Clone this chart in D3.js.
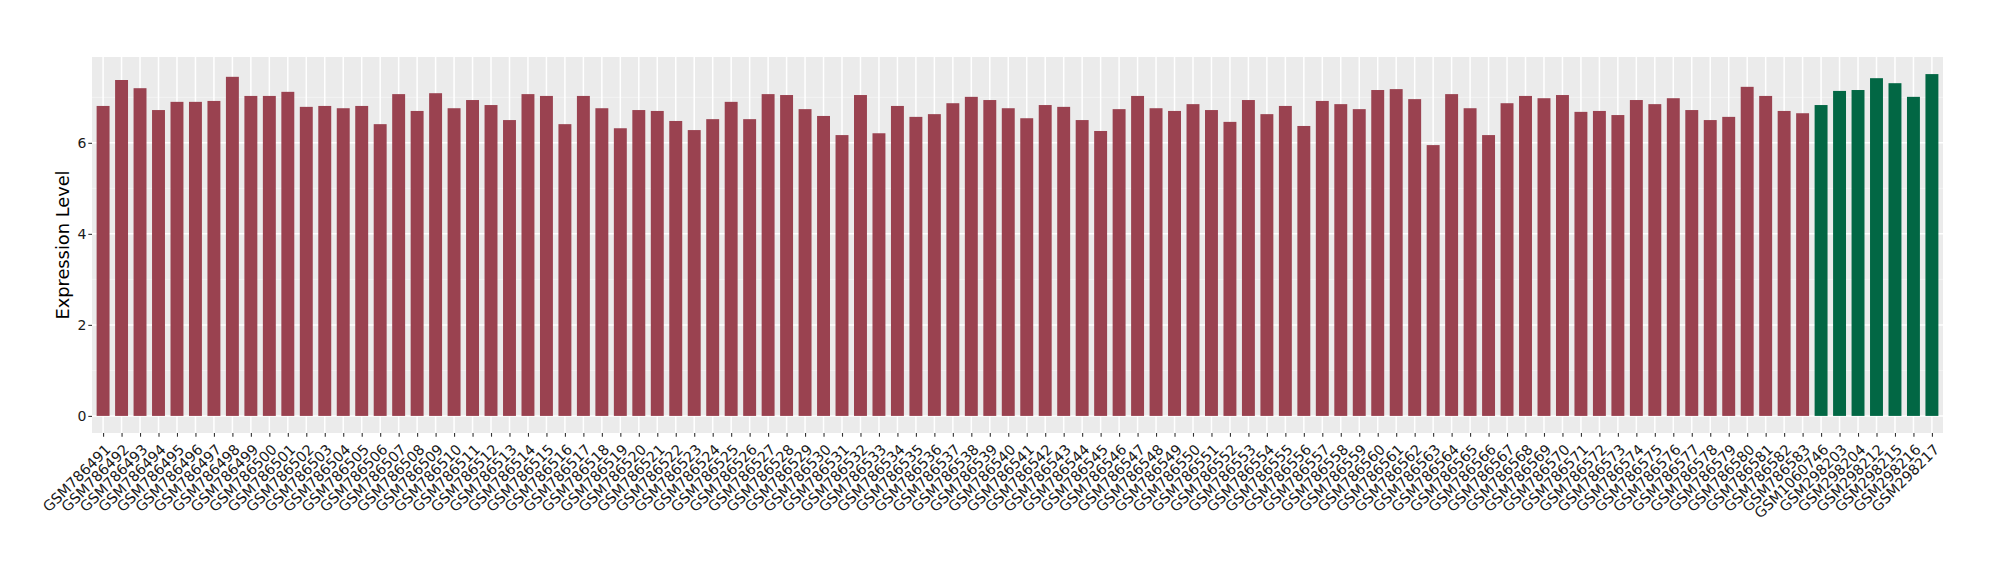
<!DOCTYPE html>
<html>
<head>
<meta charset="utf-8">
<script src="https://cdn.jsdelivr.net/npm/d3@7"></script>
<style>
  body { margin: 0; background: #ffffff; }
  svg text { font-family: "DejaVu Sans", "Liberation Sans", sans-serif; }
</style>
</head>
<body>
<script>
// Sample ids, in plotting order
const sampleIds = [
    "GSM786491", "GSM786492", "GSM786493", "GSM786494", "GSM786495", "GSM786496", "GSM786497", "GSM786498",
    "GSM786499", "GSM786500", "GSM786501", "GSM786502", "GSM786503", "GSM786504", "GSM786505", "GSM786506",
    "GSM786507", "GSM786508", "GSM786509", "GSM786510", "GSM786511", "GSM786512", "GSM786513", "GSM786514",
    "GSM786515", "GSM786516", "GSM786517", "GSM786518", "GSM786519", "GSM786520", "GSM786521", "GSM786522",
    "GSM786523", "GSM786524", "GSM786525", "GSM786526", "GSM786527", "GSM786528", "GSM786529", "GSM786530",
    "GSM786531", "GSM786532", "GSM786533", "GSM786534", "GSM786535", "GSM786536", "GSM786537", "GSM786538",
    "GSM786539", "GSM786540", "GSM786541", "GSM786542", "GSM786543", "GSM786544", "GSM786545", "GSM786546",
    "GSM786547", "GSM786548", "GSM786549", "GSM786550", "GSM786551", "GSM786552", "GSM786553", "GSM786554",
    "GSM786555", "GSM786556", "GSM786557", "GSM786558", "GSM786559", "GSM786560", "GSM786561", "GSM786562",
    "GSM786563", "GSM786564", "GSM786565", "GSM786566", "GSM786567", "GSM786568", "GSM786569", "GSM786570",
    "GSM786571", "GSM786572", "GSM786573", "GSM786574", "GSM786575", "GSM786576", "GSM786577", "GSM786578",
    "GSM786579", "GSM786580", "GSM786581", "GSM786582", "GSM786583",
    "GSM1060746", "GSM298203", "GSM298204", "GSM298212", "GSM298215", "GSM298216", "GSM298217"
];

// Expression level per sample
const expressionValues = [
    6.81, 7.38, 7.20, 6.72, 6.90, 6.90, 6.92, 7.45,
    7.03, 7.03, 7.12, 6.79, 6.81, 6.76, 6.81, 6.41,
    7.07, 6.70, 7.09, 6.76, 6.94, 6.83, 6.50, 7.07,
    7.03, 6.41, 7.03, 6.76, 6.32, 6.72, 6.70, 6.48,
    6.28, 6.52, 6.90, 6.52, 7.07, 7.05, 6.74, 6.59,
    6.17, 7.05, 6.21, 6.81, 6.57, 6.63, 6.87, 7.01,
    6.94, 6.76, 6.54, 6.83, 6.79, 6.50, 6.26, 6.74,
    7.03, 6.76, 6.70, 6.85, 6.72, 6.46, 6.94, 6.63,
    6.81, 6.37, 6.92, 6.85, 6.74, 7.16, 7.18, 6.96,
    5.95, 7.07, 6.76, 6.17, 6.87, 7.03, 6.98, 7.05,
    6.68, 6.70, 6.61, 6.94, 6.85, 6.98, 6.72, 6.50,
    6.57, 7.23, 7.03, 6.70, 6.65,
    6.83, 7.14, 7.16, 7.42, 7.31, 7.01, 7.51
];

// Group of each sample: 93 in the first group, 7 in the second
const sampleGroups = sampleIds.map(id => id.startsWith("GSM786") ? "A" : "B");

const groupNames = ["A", "B"];
const groupColours = ["#9a4250", "#026744"];

const yTicks = [0, 2, 4, 6];
const yMinorTicks = [1, 3, 5, 7];
const yTitle = "Expression Level";

// Layout
const width = 2000;
const height = 580;
const margin = {top: 57, right: 57, bottom: 147, left: 92};
const panelWidth = width - margin.left - margin.right;
const panelHeight = height - margin.top - margin.bottom;

const svg = d3.select("body")
    .append("svg")
    .attr("width", width)
    .attr("height", height);

const panel = svg.append("g")
    .attr("transform", "translate(" + margin.left + "," + margin.top + ")");

// ggplot style discrete scale: 0.6 band of padding on each end
const xRange = d3.scalePoint()
    .domain(sampleIds)
    .range([0, panelWidth])
    .padding(0.6);
const step = xRange.step();
const barWidth = step * 0.7;

const maxValue = d3.max(expressionValues);
const expand = maxValue * 0.05;
const yRange = d3.scaleLinear()
    .domain([-expand, maxValue + expand])
    .range([panelHeight, 0]);

const colour = d3.scaleOrdinal().domain(groupNames).range(groupColours);

// Panel background
panel.append("rect")
    .attr("width", panelWidth)
    .attr("height", panelHeight)
    .attr("fill", "#ebebeb");

// Minor horizontal grid
panel.selectAll("line.minor")
    .data(yMinorTicks)
    .enter().append("line")
    .attr("class", "minor")
    .attr("x1", 0).attr("x2", panelWidth)
    .attr("y1", d => yRange(d)).attr("y2", d => yRange(d))
    .attr("stroke", "#f5f5f5")
    .attr("stroke-width", 0.8);

// Major horizontal grid
panel.selectAll("line.major-y")
    .data(yTicks)
    .enter().append("line")
    .attr("class", "major-y")
    .attr("x1", 0).attr("x2", panelWidth)
    .attr("y1", d => yRange(d)).attr("y2", d => yRange(d))
    .attr("stroke", "#ffffff")
    .attr("stroke-width", 1.5);

// Vertical grid at each sample
panel.selectAll("line.major-x")
    .data(sampleIds)
    .enter().append("line")
    .attr("class", "major-x")
    .attr("x1", d => xRange(d)).attr("x2", d => xRange(d))
    .attr("y1", 0).attr("y2", panelHeight)
    .attr("stroke", "#ffffff")
    .attr("stroke-width", 1.5);

// Bars
const rows = sampleIds.map((id, i) => ({id: id, value: expressionValues[i], group: sampleGroups[i]}));

panel.selectAll("rect.bar")
    .data(rows)
    .enter().append("rect")
    .attr("class", "bar")
    .attr("x", d => xRange(d.id) - barWidth / 2)
    .attr("width", barWidth)
    .attr("y", d => yRange(d.value))
    .attr("height", d => yRange(0) - yRange(d.value))
    .attr("fill", d => colour(d.group));

// Y axis
const yAxis = d3.axisLeft(yRange)
    .tickValues(yTicks)
    .tickSize(3.7)
    .tickPadding(2);

const yAxisGroup = panel.append("g").call(yAxis);
yAxisGroup.select(".domain").remove();
yAxisGroup.selectAll(".tick line").attr("stroke", "#333333").attr("stroke-width", 1.1);
yAxisGroup.selectAll(".tick text")
    .attr("fill", "#1a1a1a")
    .style("font-size", "14px");

// X axis
const xAxis = d3.axisBottom(xRange)
    .tickSize(3.7)
    .tickPadding(2);

const xAxisGroup = panel.append("g")
    .attr("transform", "translate(0," + panelHeight + ")")
    .call(xAxis);
xAxisGroup.select(".domain").remove();
xAxisGroup.selectAll(".tick line").attr("stroke", "#333333").attr("stroke-width", 1.1);
xAxisGroup.selectAll(".tick text")
    .attr("fill", "#1a1a1a")
    .style("font-size", "14.5px")
    .style("text-anchor", "end")
    .attr("x", 0)
    .attr("y", 0)
    .attr("dy", "0.72em")
    .attr("transform", "translate(0.5,10) rotate(-45)");

// Y axis title
svg.append("text")
    .attr("transform", "translate(" + 68.5 + "," + (margin.top + panelHeight / 2) + ") rotate(-90)")
    .style("text-anchor", "middle")
    .style("font-size", "17.8px")
    .attr("fill", "#000000")
    .text(yTitle);
</script>
</body>
</html>
